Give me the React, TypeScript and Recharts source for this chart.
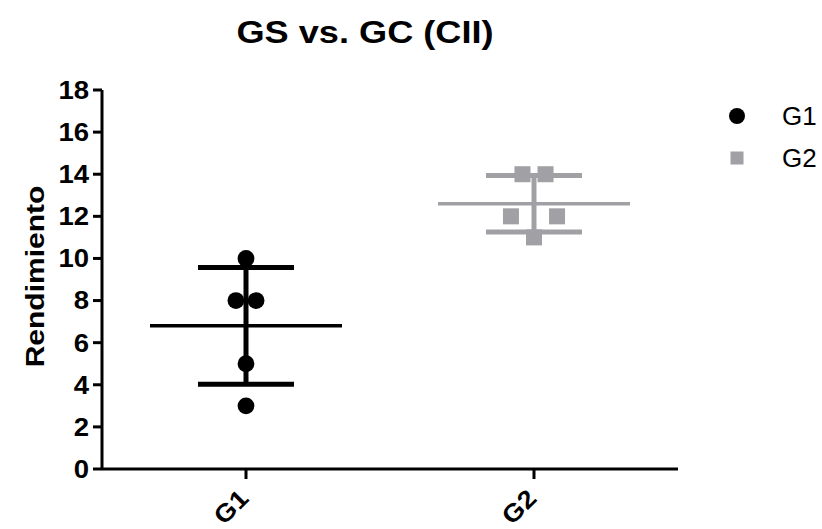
import React from "react";
import { ComposedChart, Scatter, XAxis, YAxis, ReferenceLine, Legend } from "recharts";

const FONT = "'Liberation Sans', Arial, Helvetica, sans-serif";

// categories and tick labels
const groups = ["G1", "G2"];
const yTicks = [0, 2, 4, 6, 8, 10, 12, 14, 16, 18];

// raw values per group
const g1Values = [10, 8, 8, 5, 3];
const g2Values = [14, 14, 12, 12, 11];

// horizontal scatter of tied values around the column centre (category units)
const g1Spread = [0, -0.035, 0.035, 0, 0];
const g2Spread = [-0.04, 0.04, -0.08, 0.08, 0];

const G1_COLOR = "#000000";
const G2_COLOR = "#a0a0a5";

const toPoints = (values: number[], spread: number[], pos: number) =>
  values.map((v, i) => ({ x: pos + spread[i], y: v }));

const mean = (v: number[]) => v.reduce((a, b) => a + b, 0) / v.length;
const sd = (v: number[]) => {
  const m = mean(v);
  return Math.sqrt(v.reduce((a, b) => a + (b - m) ** 2, 0) / (v.length - 1));
};

const series = [
  { name: groups[0], pos: 1, values: g1Values, spread: g1Spread, color: G1_COLOR, shape: "circle" },
  { name: groups[1], pos: 2, values: g2Values, spread: g2Spread, color: G2_COLOR, shape: "square" },
];

const MEAN_HALF = 1 / 3;
const CAP_HALF = 1 / 6;

const Dot = (color: string) => (props: any) => (
  <circle cx={props.cx} cy={props.cy} r={8.4} fill={color} />
);
const Square = (color: string) => (props: any) => (
  <rect x={props.cx - 8} y={props.cy - 8} width={16} height={16} fill={color} />
);

const XTick = (props: any) => {
  const { x, y, payload } = props;
  const tx = x + 4;
  const ty = y + 19;
  return (
    <text
      transform={`translate(${tx} ${ty}) rotate(-45) scale(1.1 1)`}
      textAnchor="end"
      fontFamily={FONT}
      fontWeight="bold"
      fontSize={25}
      fill="#000"
    >
      {groups[payload.value - 1]}
    </text>
  );
};

const YTick = (props: any) => {
  const { x, y, payload } = props;
  return (
    <text
      transform={`translate(${x} ${y}) scale(1.1 1)`}
      dy="0.355em"
      textAnchor="end"
      fontFamily={FONT}
      fontWeight="bold"
      fontSize={25}
      fill="#000"
    >
      {payload.value}
    </text>
  );
};

const YLabel = (props: any) => {
  const vb = props.viewBox || { y: 90, height: 379 };
  const cy = vb.y + vb.height / 2 - 3;
  return (
    <text
      transform={`translate(44 ${cy}) rotate(-90) scale(1.2 1)`}
      textAnchor="middle"
      fontFamily={FONT}
      fontWeight="bold"
      fontSize={25}
      fill="#000"
    >
      Rendimiento
    </text>
  );
};

const LegendBox = () => (
  <div style={{ fontFamily: FONT, fontSize: 26, color: "#000" }}>
    {series.map((s) => (
      <div key={s.name} style={{ display: "flex", alignItems: "center", height: 42 }}>
        <svg width={22} height={22} style={{ marginRight: 34 }}>
          {s.shape === "circle" ? (
            <circle cx={11} cy={11} r={8} fill={s.color} />
          ) : (
            <rect x={4.5} y={4.5} width={13} height={13} fill={s.color} />
          )}
        </svg>
        <span>{s.name}</span>
      </div>
    ))}
  </div>
);

export default function App() {
  return (
    <div style={{ position: "absolute", left: 0, top: 0, width: 822, height: 529, background: "#fff" }}>
      <div
        style={{
          position: "absolute",
          left: 0,
          top: 16,
          width: 730,
          textAlign: "center",
          fontFamily: FONT,
          fontWeight: 700,
          fontSize: 32,
          lineHeight: "32px",
          transform: "scaleX(1.13)",
          color: "#000",
        }}
      >
        GS vs. GC (CII)
      </div>
      <ComposedChart width={822} height={529} margin={{ top: 90, right: 144, bottom: 10, left: 0 }}>
        <XAxis
          type="number"
          dataKey="x"
          domain={[0.5, 2.5]}
          ticks={[1, 2]}
          height={50}
          axisLine={{ stroke: "#000", strokeWidth: 3 }}
          tickLine={{ stroke: "#000", strokeWidth: 3 }}
          tickSize={10}
          tick={<XTick />}
          interval={0}
        />
        <YAxis
          type="number"
          dataKey="y"
          domain={[0, 18]}
          ticks={yTicks}
          width={102}
          interval={0}
          axisLine={{ stroke: "#000", strokeWidth: 3 }}
          tickLine={{ stroke: "#000", strokeWidth: 3 }}
          tickSize={9}
          tickMargin={4}
          tick={<YTick />}
          label={{ content: <YLabel /> }}
        />
        {series.map((s) => {
          const m = mean(s.values);
          const d = sd(s.values);
          return (
            <React.Fragment key={`stats-${s.name}`}>
              <ReferenceLine
                segment={[{ x: s.pos, y: m - d }, { x: s.pos, y: m + d }]}
                stroke={s.color}
                strokeWidth={5}
              />
              <ReferenceLine
                segment={[{ x: s.pos - CAP_HALF, y: m + d }, { x: s.pos + CAP_HALF, y: m + d }]}
                stroke={s.color}
                strokeWidth={5}
              />
              <ReferenceLine
                segment={[{ x: s.pos - CAP_HALF, y: m - d }, { x: s.pos + CAP_HALF, y: m - d }]}
                stroke={s.color}
                strokeWidth={5}
              />
              <ReferenceLine
                segment={[{ x: s.pos - MEAN_HALF, y: m }, { x: s.pos + MEAN_HALF, y: m }]}
                stroke={s.color}
                strokeWidth={3.5}
              />
            </React.Fragment>
          );
        })}
        {series.map((s) => (
          <Scatter
            key={s.name}
            name={s.name}
            data={toPoints(s.values, s.spread, s.pos)}
            fill={s.color}
            shape={s.shape === "circle" ? Dot(s.color) : Square(s.color)}
            isAnimationActive={false}
          />
        ))}
        <Legend
          layout="vertical"
          align="center"
          verticalAlign="middle"
          wrapperStyle={{ left: 726, top: 95, width: 96 }}
          content={<LegendBox />}
        />
      </ComposedChart>
    </div>
  );
}
